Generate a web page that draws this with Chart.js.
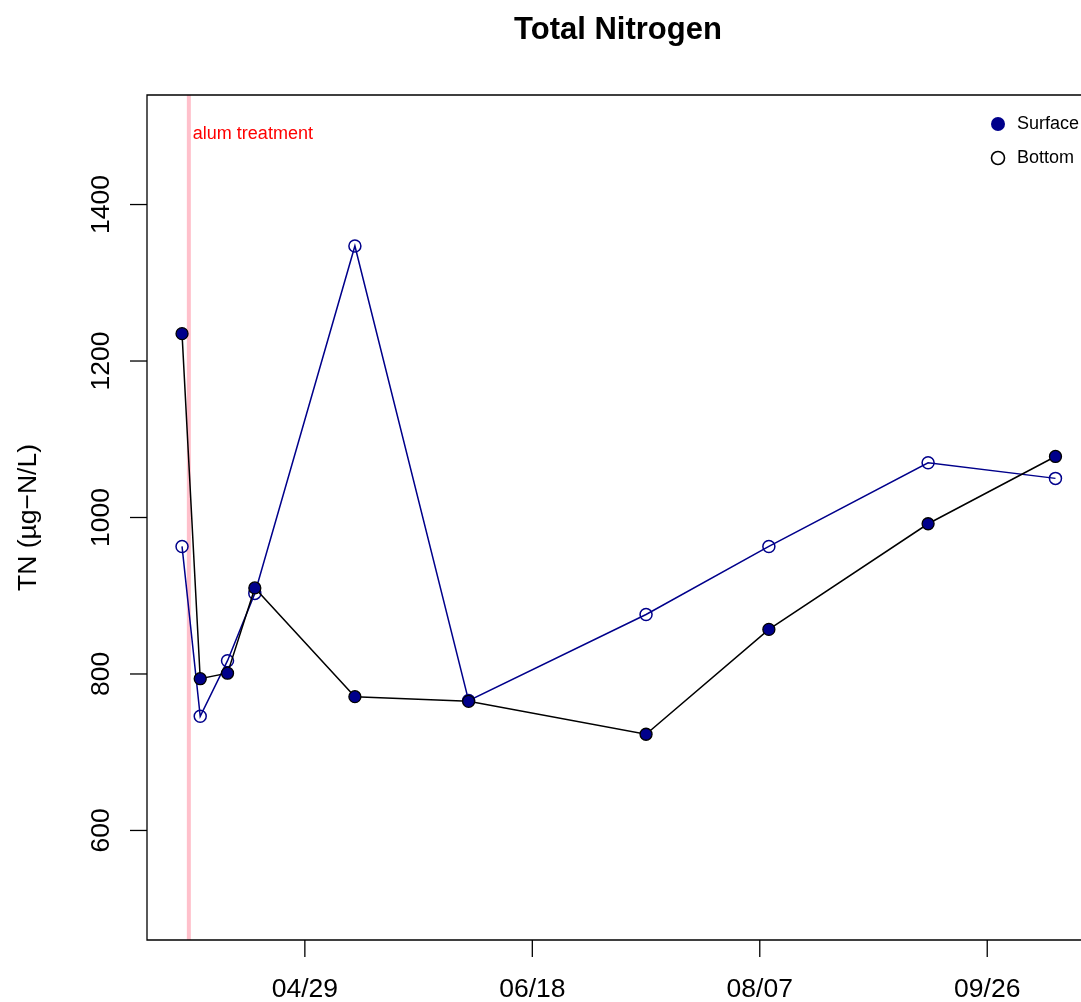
<!DOCTYPE html>
<html>
<head>
<meta charset="utf-8">
<script src="https://cdn.jsdelivr.net/npm/chart.js@4"></script>
<style>
  html, body { margin: 0; padding: 0; background: #fff; overflow: hidden; }
  #wrap { width: 1098px; height: 1002px; }
</style>
</head>
<body>
<div id="wrap"><canvas id="myChart" width="1098" height="1002"></canvas></div>
<script>
// sample dates as day of year
var days = [92, 96, 102, 108, 130, 155, 194, 221, 256, 284];
var surface = [1235, 794, 801, 910, 771, 765, 723, 857, 992, 1078];
var bottom = [963, 746, 817, 903, 1347, 766, 876, 963, 1070, 1050];

var xTickDays = [119, 169, 219, 269];
var xTickLabels = ['04/29', '06/18', '08/07', '09/26'];
var yTicks = [600, 800, 1000, 1200, 1400];

var alumDay = 93.5;
var alumLabelY = 1490;

var FONT = 'Liberation Sans, Arial, Helvetica, sans-serif';
var NAVY = '#00008B';

function toPoints(xs, ys) {
    return xs.map(function (x, i) { return { x: x, y: ys[i] }; });
}

// R style frame, axes, title, alum line and legend
const rStyle = {
    id: 'rStyle',
    beforeDatasetsDraw(chart) {
        const ctx = chart.ctx;
        const a = chart.chartArea;
        const xs = chart.scales.x;
        ctx.save();
        const ax = xs.getPixelForValue(alumDay);
        ctx.strokeStyle = 'pink';
        ctx.lineWidth = 4;
        ctx.beginPath();
        ctx.moveTo(ax, a.top);
        ctx.lineTo(ax, a.bottom);
        ctx.stroke();
        ctx.restore();
    },
    afterDraw(chart) {
        const ctx = chart.ctx;
        const a = chart.chartArea;
        const xs = chart.scales.x;
        const ys = chart.scales.y;
        ctx.save();

        // box
        ctx.strokeStyle = '#000';
        ctx.lineWidth = 1.3;
        ctx.beginPath();
        ctx.moveTo(a.right + 5, a.top);
        ctx.lineTo(a.left, a.top);
        ctx.lineTo(a.left, a.bottom);
        ctx.lineTo(a.right + 5, a.bottom);
        ctx.stroke();

        // x axis
        ctx.fillStyle = '#000';
        ctx.font = '26.5px ' + FONT;
        ctx.textAlign = 'center';
        ctx.textBaseline = 'middle';
        xTickDays.forEach(function (d, i) {
            const px = xs.getPixelForValue(d);
            ctx.beginPath();
            ctx.moveTo(px, a.bottom);
            ctx.lineTo(px, a.bottom + 17);
            ctx.stroke();
            ctx.fillText(xTickLabels[i], px, 990);
        });

        // y axis
        yTicks.forEach(function (v) {
            const py = ys.getPixelForValue(v);
            ctx.beginPath();
            ctx.moveTo(a.left, py);
            ctx.lineTo(a.left - 17, py);
            ctx.stroke();
            ctx.save();
            ctx.translate(102, py);
            ctx.rotate(-Math.PI / 2);
            ctx.fillText(String(v), 0, 0);
            ctx.restore();
        });

        // y axis title
        ctx.save();
        ctx.translate(29, (a.top + a.bottom) / 2);
        ctx.rotate(-Math.PI / 2);
        ctx.fillText('TN (\u00B5g\u2212N/L)', 0, 0);
        ctx.restore();

        // main title
        ctx.font = 'bold 31px ' + FONT;
        ctx.fillText('Total Nitrogen', 618, 30);

        // alum label
        ctx.font = '18px ' + FONT;
        ctx.fillStyle = 'red';
        ctx.textAlign = 'left';
        ctx.fillText('alum treatment', xs.getPixelForValue(alumDay) + 4, ys.getPixelForValue(alumLabelY));

        // legend
        ctx.fillStyle = NAVY;
        ctx.beginPath();
        ctx.arc(998, 124, 7, 0, Math.PI * 2);
        ctx.fill();
        ctx.strokeStyle = '#000';
        ctx.lineWidth = 1.6;
        ctx.beginPath();
        ctx.arc(998, 158, 6.5, 0, Math.PI * 2);
        ctx.stroke();
        ctx.fillStyle = '#000';
        ctx.fillText('Surface', 1017, 124);
        ctx.fillText('Bottom', 1017, 158);

        ctx.restore();
    }
};

const data = {
    datasets: [
        {
            label: 'Surface',
            data: toPoints(days, surface),
            showLine: true,
            borderColor: '#000',
            borderWidth: 1.5,
            pointRadius: 6,
            pointBorderWidth: 1.3,
            pointBackgroundColor: NAVY,
            pointBorderColor: '#000',
            order: 1
        },
        {
            label: 'Bottom',
            data: toPoints(days, bottom),
            showLine: true,
            borderColor: NAVY,
            borderWidth: 1.5,
            pointRadius: 6,
            pointBorderWidth: 1.5,
            pointBackgroundColor: 'rgba(0,0,0,0)',
            pointBorderColor: NAVY,
            order: 2
        }
    ]
};

const config = {
    type: 'scatter',
    data: data,
    options: {
        responsive: false,
        animation: false,
        events: [],
        layout: { padding: { left: 147, top: 95, right: 4, bottom: 62 } },
        plugins: {
            legend: { display: false },
            title: { display: false },
            tooltip: { enabled: false }
        },
        scales: {
            x: { type: 'linear', min: 84.3, max: 291.7, display: false },
            y: { type: 'linear', min: 460, max: 1540, display: false }
        }
    },
    plugins: [rStyle]
};

var myChart = new Chart(document.getElementById('myChart'), config);
</script>
</body>
</html>
